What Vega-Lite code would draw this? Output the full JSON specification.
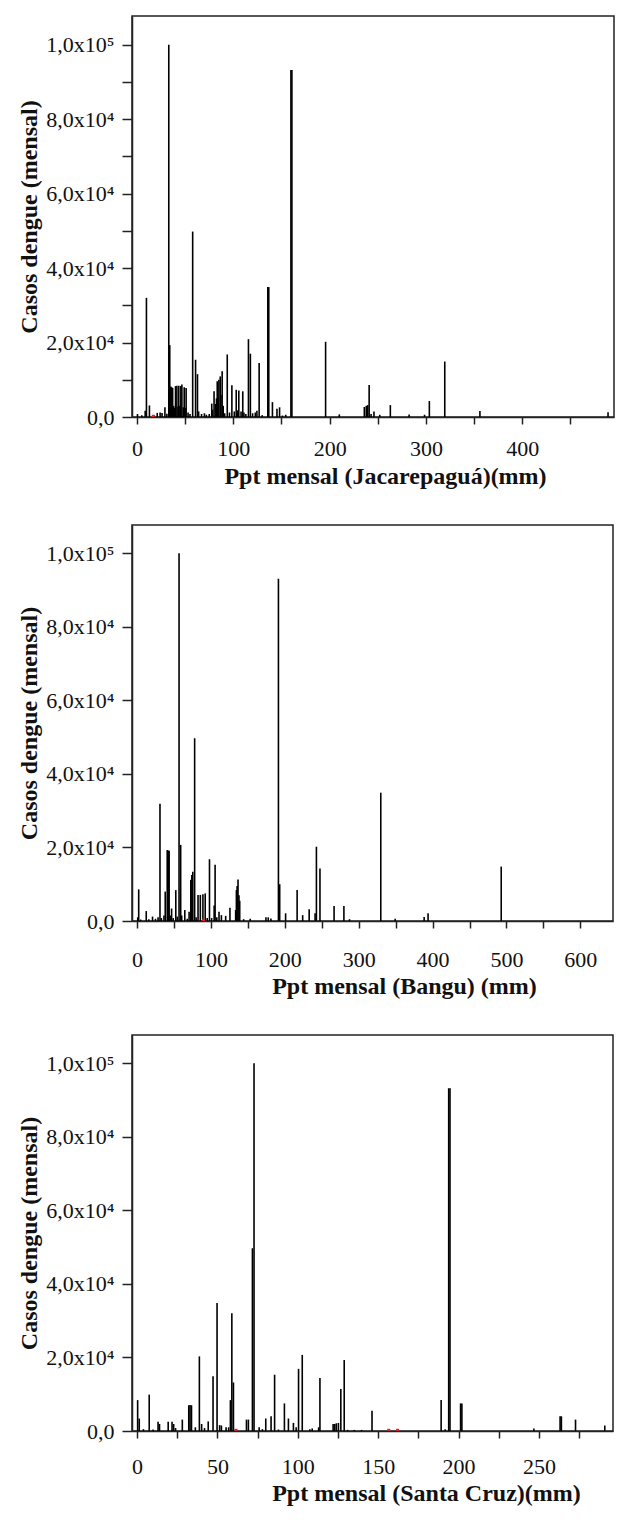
{
"$schema": "https://vega.github.io/schema/vega-lite/v6.json",
"background": "white",
"padding": {"left": 17, "top": 15, "right": 0, "bottom": 0},
"spacing": 35,
"config": {
  "view": {"stroke": "#222", "strokeWidth": 1.5},
  "axis": {"grid": false, "domainColor": "#222", "domainWidth": 1.5, "tickColor": "#222", "tickWidth": 1.5,
    "labelFont": "Liberation Serif", "labelFontSize": 22, "labelColor": "#111", "labelOverlap": false, "labelFlush": false,
    "titleFont": "Liberation Serif", "titleFontSize": 24, "titleFontWeight": "bold", "titleColor": "#111"}
},
"datasets": {
  "jac": [
    {"ppt":0.5,"casos":800},{"ppt":5,"casos":500},{"ppt":8.5,"casos":1700},{"ppt":9.8,"casos":32000},{"ppt":12.9,"casos":3100},{"ppt":18,"casos":400},{"ppt":21,"casos":1100},{"ppt":24,"casos":1200},{"ppt":26,"casos":1100},{"ppt":29,"casos":2600},{"ppt":31,"casos":900},{"ppt":33,"casos":100000},{"ppt":34,"casos":19300},{"ppt":35,"casos":8200},{"ppt":36,"casos":8000},{"ppt":37,"casos":7800},{"ppt":38,"casos":3000},{"ppt":39,"casos":2500},{"ppt":40,"casos":8300},{"ppt":41.4,"casos":8400},{"ppt":42.5,"casos":2800},{"ppt":43.4,"casos":8400},{"ppt":44.5,"casos":3000},{"ppt":45.5,"casos":8300},{"ppt":46.6,"casos":8700},{"ppt":48,"casos":2600},{"ppt":49,"casos":8000},{"ppt":50,"casos":2500},{"ppt":51,"casos":7800},{"ppt":53,"casos":1200},{"ppt":55,"casos":800},{"ppt":57.8,"casos":49800},{"ppt":60.8,"casos":15400},{"ppt":62.8,"casos":11500},{"ppt":64,"casos":1500},{"ppt":67,"casos":800},{"ppt":70,"casos":1000},{"ppt":72,"casos":600},{"ppt":75,"casos":800},{"ppt":77.6,"casos":3600},{"ppt":78.5,"casos":2000},{"ppt":80,"casos":6900},{"ppt":81.5,"casos":3500},{"ppt":82.5,"casos":5000},{"ppt":83.3,"casos":9600},{"ppt":84.2,"casos":5000},{"ppt":85,"casos":10000},{"ppt":86.4,"casos":10900},{"ppt":87.2,"casos":6000},{"ppt":88.4,"casos":12300},{"ppt":89.5,"casos":3000},{"ppt":91,"casos":1000},{"ppt":93.7,"casos":16800},{"ppt":96,"casos":1200},{"ppt":98.5,"casos":8500},{"ppt":101,"casos":1500},{"ppt":103,"casos":7300},{"ppt":104.5,"casos":1800},{"ppt":105.7,"casos":7100},{"ppt":108,"casos":1500},{"ppt":109.8,"casos":6900},{"ppt":111,"casos":1200},{"ppt":113,"casos":800},{"ppt":115.7,"casos":20900},{"ppt":117.7,"casos":17000},{"ppt":120,"casos":1000},{"ppt":122.8,"casos":1200},{"ppt":124.5,"casos":1700},{"ppt":126.8,"casos":14500},{"ppt":130,"casos":500},{"ppt":135.8,"casos":34900},{"ppt":136.8,"casos":34900},{"ppt":140.6,"casos":4000},{"ppt":145.3,"casos":2200},{"ppt":148,"casos":2600},{"ppt":151,"casos":400},{"ppt":154.4,"casos":600},{"ppt":159.8,"casos":93200},{"ppt":160.8,"casos":93200},{"ppt":195.8,"casos":20200},{"ppt":210,"casos":700},{"ppt":236,"casos":2700},{"ppt":238,"casos":3000},{"ppt":239.5,"casos":3200},{"ppt":241,"casos":8600},{"ppt":243,"casos":800},{"ppt":246,"casos":1500},{"ppt":252,"casos":600},{"ppt":263,"casos":3200},{"ppt":282.5,"casos":700},{"ppt":298.5,"casos":600},{"ppt":303.5,"casos":4300},{"ppt":319.5,"casos":14900},{"ppt":356,"casos":1600},{"ppt":489,"casos":1300}
  ],
  "bangu": [
    {"ppt":1,"casos":1000},{"ppt":2.3,"casos":8600},{"ppt":5,"casos":400},{"ppt":12.5,"casos":2700},{"ppt":16,"casos":500},{"ppt":21,"casos":1200},{"ppt":25,"casos":600},{"ppt":28.5,"casos":1000},{"ppt":31.1,"casos":31900},{"ppt":33,"casos":800},{"ppt":36.5,"casos":1500},{"ppt":38.2,"casos":8000},{"ppt":40.9,"casos":19300},{"ppt":42.2,"casos":19200},{"ppt":43.5,"casos":19100},{"ppt":45,"casos":1500},{"ppt":46.8,"casos":3400},{"ppt":49,"casos":800},{"ppt":52.5,"casos":8400},{"ppt":54.5,"casos":1200},{"ppt":56.9,"casos":100000},{"ppt":59.1,"casos":20700},{"ppt":60.5,"casos":1500},{"ppt":64.7,"casos":3000},{"ppt":68,"casos":600},{"ppt":70.5,"casos":2500},{"ppt":72.8,"casos":11200},{"ppt":74.2,"casos":12500},{"ppt":75.5,"casos":13400},{"ppt":78,"casos":49700},{"ppt":80,"casos":1000},{"ppt":82.6,"casos":7100},{"ppt":85.7,"casos":7100},{"ppt":89.2,"casos":7300},{"ppt":92.3,"casos":7500},{"ppt":95,"casos":800},{"ppt":98.1,"casos":16800},{"ppt":101,"casos":800},{"ppt":104.4,"casos":4200},{"ppt":105.7,"casos":15300},{"ppt":108,"casos":1000},{"ppt":111,"casos":2500},{"ppt":114.2,"casos":1600},{"ppt":120,"casos":1400},{"ppt":125.8,"casos":3600},{"ppt":133.5,"casos":3000},{"ppt":134.5,"casos":8400},{"ppt":135.5,"casos":9500},{"ppt":136.7,"casos":11300},{"ppt":138,"casos":7000},{"ppt":139,"casos":5500},{"ppt":144.3,"casos":500},{"ppt":153.2,"casos":600},{"ppt":174.5,"casos":1000},{"ppt":177.6,"casos":1000},{"ppt":181.2,"casos":700},{"ppt":191.4,"casos":93100},{"ppt":193.1,"casos":10000},{"ppt":201.1,"casos":2100},{"ppt":216.7,"casos":8400},{"ppt":224.2,"casos":1600},{"ppt":233,"casos":3200},{"ppt":241,"casos":2100},{"ppt":242.8,"casos":20200},{"ppt":247.6,"casos":14300},{"ppt":266.7,"casos":4100},{"ppt":280,"casos":4100},{"ppt":287.6,"casos":500},{"ppt":329.9,"casos":34900},{"ppt":349.4,"casos":600},{"ppt":388.6,"casos":1100},{"ppt":393.9,"casos":2100},{"ppt":492.9,"casos":14800}
  ],
  "sc": [
    {"ppt":0.4,"casos":8400},{"ppt":1.4,"casos":3400},{"ppt":4,"casos":500},{"ppt":7.6,"casos":9900},{"ppt":10,"casos":400},{"ppt":13.1,"casos":2500},{"ppt":14,"casos":1900},{"ppt":19.4,"casos":2500},{"ppt":21.8,"casos":2500},{"ppt":22.8,"casos":1900},{"ppt":24,"casos":800},{"ppt":28.2,"casos":3100},{"ppt":32.2,"casos":7000},{"ppt":33,"casos":7100},{"ppt":33.9,"casos":7000},{"ppt":36.3,"casos":1000},{"ppt":38.8,"casos":20300},{"ppt":40.2,"casos":1900},{"ppt":42,"casos":800},{"ppt":44.3,"casos":2600},{"ppt":47.3,"casos":14900},{"ppt":49.8,"casos":34800},{"ppt":51.4,"casos":1600},{"ppt":52.5,"casos":1500},{"ppt":55.4,"casos":1000},{"ppt":57,"casos":1000},{"ppt":58.1,"casos":8400},{"ppt":59,"casos":32000},{"ppt":60,"casos":13200},{"ppt":68.1,"casos":3100},{"ppt":69.3,"casos":3100},{"ppt":71.8,"casos":49700},{"ppt":72.8,"casos":100000},{"ppt":76,"casos":1000},{"ppt":78,"casos":500},{"ppt":80.1,"casos":3400},{"ppt":83.4,"casos":4000},{"ppt":85.6,"casos":15300},{"ppt":88,"casos":400},{"ppt":91.7,"casos":7500},{"ppt":94.2,"casos":3400},{"ppt":97.3,"casos":2200},{"ppt":99,"casos":1000},{"ppt":100.5,"casos":16900},{"ppt":102.8,"casos":20700},{"ppt":107.5,"casos":500},{"ppt":109,"casos":700},{"ppt":113,"casos":1000},{"ppt":113.8,"casos":14400},{"ppt":122,"casos":1900},{"ppt":123,"casos":1900},{"ppt":124,"casos":2100},{"ppt":125.3,"casos":2200},{"ppt":126.8,"casos":11400},{"ppt":128.9,"casos":19300},{"ppt":131.1,"casos":300},{"ppt":135.2,"casos":300},{"ppt":139.7,"casos":300},{"ppt":146.2,"casos":5500},{"ppt":189.2,"casos":8400},{"ppt":191.7,"casos":500},{"ppt":193.9,"casos":93200},{"ppt":194.7,"casos":93200},{"ppt":201.3,"casos":7500},{"ppt":202.1,"casos":7500},{"ppt":246.9,"casos":700},{"ppt":263.2,"casos":4000},{"ppt":264,"casos":4000},{"ppt":272.8,"casos":3100},{"ppt":291,"casos":1500}
  ],
  "red": [
    {"painel":"J","ppt":16.9,"casos":600},{"painel":"B","ppt":90.1,"casos":600},{"painel":"S","ppt":61.6,"casos":600},{"painel":"S","ppt":156.6,"casos":600},{"painel":"S","ppt":162.1,"casos":600}
  ]
},
"vconcat": [
  {
    "width": 482, "height": 401,
    "layer": [
      {"data": {"name": "jac"}, "mark": {"type": "bar", "orient": "vertical", "size": 1.6, "color": "#000"},
       "encoding": {
         "x": {"field": "ppt", "type": "quantitative", "scale": {"domain": [0, 490], "nice": false, "zero": false},
           "axis": {"title": "Ppt mensal (Jacarepaguá)(mm)", "values": [0,50,100,150,200,250,300,350,400,450], "labelExpr": "datum.value % 100 == 0 ? datum.label : ''", "tickSize": 7, "labelPadding": 14, "titlePadding": 5, "titleX": 253, "titleAlign": "center"}},
         "y": {"field": "casos", "type": "quantitative", "scale": {"domain": [0, 107700], "nice": false},
           "axis": {"title": "Casos dengue (mensal)", "values": [0,10000,20000,30000,40000,50000,60000,70000,80000,90000,100000], "labelExpr": "datum.value == 0 ? '0,0' : datum.value == 100000 ? '1,0x10⁵' : (datum.value % 20000 == 0 ? (datum.value/10000) + ',0x10⁴' : '')", "tickSize": 10, "labelPadding": 8, "titlePadding": 4}}
       }},
      {"data": {"name": "red"}, "transform": [{"filter": "datum.painel == 'J'"}], "mark": {"type": "bar", "orient": "vertical", "size": 3, "color": "#e02020"},
       "encoding": {"x": {"field": "ppt", "type": "quantitative"}, "y": {"field": "casos", "type": "quantitative"}}}
    ]
  },
  {
    "width": 481, "height": 396,
    "layer": [
      {"data": {"name": "bangu"}, "mark": {"type": "bar", "orient": "vertical", "size": 1.6, "color": "#000"},
       "encoding": {
         "x": {"field": "ppt", "type": "quantitative", "scale": {"domain": [0, 637.4], "nice": false, "zero": false},
           "axis": {"title": "Ppt mensal (Bangu) (mm)", "values": [0,50,100,150,200,250,300,350,400,450,500,550,600], "labelExpr": "datum.value % 100 == 0 ? datum.label : ''", "tickSize": 7, "labelPadding": 21, "titlePadding": 4, "titleX": 272, "titleAlign": "center"}},
         "y": {"field": "casos", "type": "quantitative", "scale": {"domain": [0, 107700], "nice": false},
           "axis": {"title": "Casos dengue (mensal)", "values": [0,10000,20000,30000,40000,50000,60000,70000,80000,90000,100000], "labelExpr": "datum.value == 0 ? '0,0' : datum.value == 100000 ? '1,0x10⁵' : (datum.value % 20000 == 0 ? (datum.value/10000) + ',0x10⁴' : '')", "tickSize": 10, "labelPadding": 8, "titlePadding": 4}}
       }},
      {"data": {"name": "red"}, "transform": [{"filter": "datum.painel == 'B'"}], "mark": {"type": "bar", "orient": "vertical", "size": 3, "color": "#e02020"},
       "encoding": {"x": {"field": "ppt", "type": "quantitative"}, "y": {"field": "casos", "type": "quantitative"}}}
    ]
  },
  {
    "width": 481, "height": 396,
    "layer": [
      {"data": {"name": "sc"}, "mark": {"type": "bar", "orient": "vertical", "size": 1.6, "color": "#000"},
       "encoding": {
         "x": {"field": "ppt", "type": "quantitative", "scale": {"domain": [0, 293], "nice": false, "zero": false},
           "axis": {"title": "Ppt mensal (Santa Cruz)(mm)", "values": [0,25,50,75,100,125,150,175,200,225,250,275], "labelExpr": "datum.value % 50 == 0 ? datum.label : ''", "tickSize": 7, "labelPadding": 18, "titlePadding": 4, "titleX": 294, "titleAlign": "center"}},
         "y": {"field": "casos", "type": "quantitative", "scale": {"domain": [0, 107700], "nice": false},
           "axis": {"title": "Casos dengue (mensal)", "values": [0,10000,20000,30000,40000,50000,60000,70000,80000,90000,100000], "labelExpr": "datum.value == 0 ? '0,0' : datum.value == 100000 ? '1,0x10⁵' : (datum.value % 20000 == 0 ? (datum.value/10000) + ',0x10⁴' : '')", "tickSize": 10, "labelPadding": 8, "titlePadding": 4}}
       }},
      {"data": {"name": "red"}, "transform": [{"filter": "datum.painel == 'S'"}], "mark": {"type": "bar", "orient": "vertical", "size": 3, "color": "#e02020"},
       "encoding": {"x": {"field": "ppt", "type": "quantitative"}, "y": {"field": "casos", "type": "quantitative"}}}
    ]
  }
]
}
